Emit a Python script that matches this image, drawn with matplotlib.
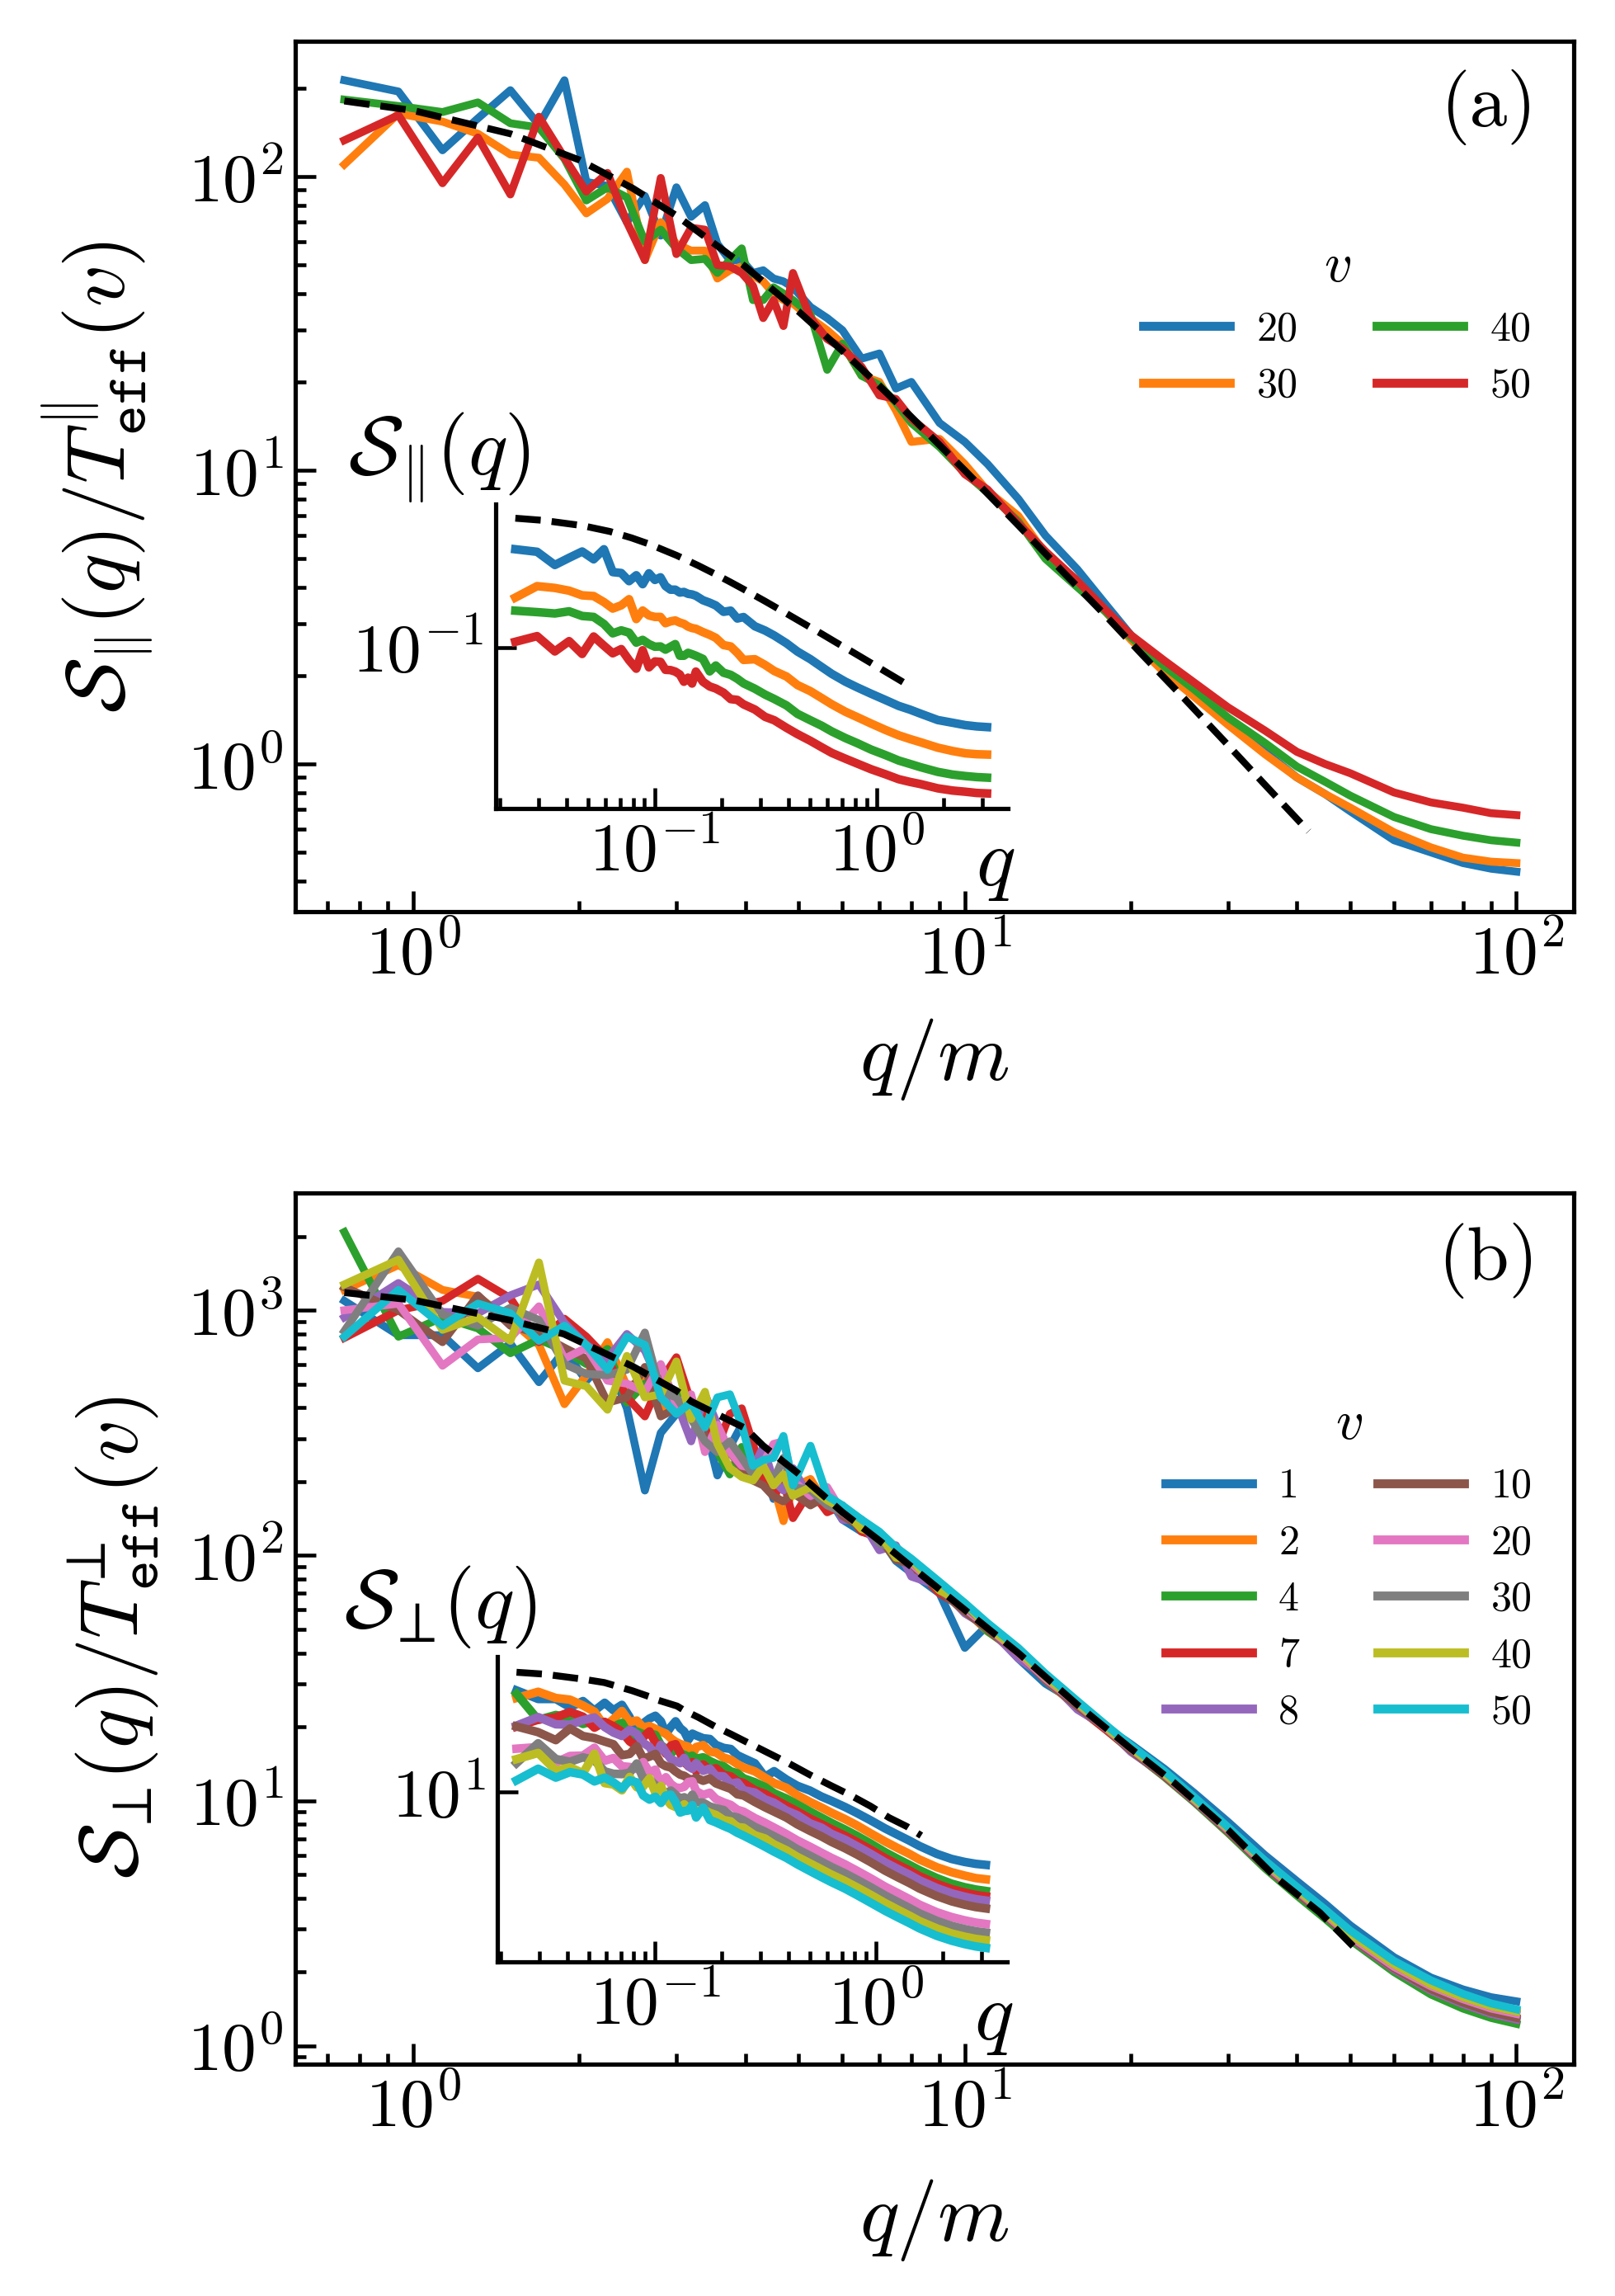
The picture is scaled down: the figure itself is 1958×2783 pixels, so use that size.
import numpy as np
import matplotlib
matplotlib.use("Agg")
import matplotlib.pyplot as plt
from matplotlib.ticker import LogLocator, NullLocator

plt.rcParams.update({
    "font.family": "cmr10",
    "mathtext.fontset": "cm",
    "axes.formatter.use_mathtext": True,
})

# q/m grid of the plotted points
qm = [0.75, 0.94, 1.13, 1.31, 1.5, 1.69, 1.88, 2.06, 2.25, 2.44,
      2.63, 2.81, 3.0, 3.19, 3.38, 3.56, 3.75, 3.94, 4.13, 4.31,
      4.5, 4.69, 4.88, 5.25, 5.63, 6.0, 6.5, 7.0, 7.5, 8.0,
      9.0, 10, 11, 12.5, 14, 16, 18, 20, 23, 26,
      30, 35, 40, 45, 50, 60, 70, 80, 90, 100]
m_mass = 0.0314

# ---- panel (a): S_par / T_eff  for v = 20, 30, 40, 50
v_par = [20, 30, 40, 50]
S_par_20 = [213, 195, 123, 158, 197, 150, 213, 96, 93, 70, 86, 63, 92, 73, 80, 59, 52, 52, 47, 48,
            45, 44, 42, 36, 33, 30, 24, 25, 19, 20, 14.5, 12.5, 10.5, 8.0, 6.0, 4.6, 3.5, 2.75, 2.1, 1.72,
            1.38, 1.1, 0.9, 0.79, 0.69, 0.55, 0.5, 0.46, 0.44, 0.43]
S_par_30 = [110, 164, 154, 140, 119, 116, 94, 75, 84, 104, 52, 70, 59, 56, 56, 45, 48, 49.5, 46, 44,
            40, 38, 37, 33, 30, 27, 21, 20, 16, 12.5, 12.8, 10.5, 8.5, 7.0, 5.2, 4.2, 3.3, 2.65, 2.05, 1.7,
            1.36, 1.08, 0.9, 0.79, 0.71, 0.585, 0.52, 0.48, 0.465, 0.46]
S_par_40 = [183, 174, 166, 179, 152, 147, 115, 83, 92, 85, 60, 66, 57, 52, 52.5, 47, 52, 57, 38, 38,
            42, 40, 38, 34, 22, 27, 21, 19.5, 17, 14.5, 12, 9.8, 8.4, 6.7, 5.0, 4.0, 3.3, 2.7, 2.15, 1.8,
            1.44, 1.18, 0.98, 0.87, 0.78, 0.66, 0.6, 0.57, 0.55, 0.54]
S_par_50 = [133, 162, 95, 136, 87, 160, 116, 89, 103, 70, 52, 99, 54.5, 67, 66, 50, 49.5, 47, 42.5, 33,
            38, 31, 47, 33, 28, 26, 22.5, 18, 17.5, 15, 12.5, 9.7, 8.6, 6.6, 5.3, 4.2, 3.35, 2.75, 2.25, 1.9,
            1.56, 1.3, 1.1, 1.0, 0.93, 0.8, 0.74, 0.71, 0.68, 0.67]
T_par = [0.0145, 0.0052, 0.00198, 0.00092]

th_q_par = [0.75, 1.0, 1.5, 2.0, 2.5, 3.0, 4.0, 5.0, 6.0, 7.0, 8.0, 10, 12.5, 15, 18, 21, 25, 30, 35, 42]
th_par = [181, 168, 140, 114, 91.3, 73.7, 49.4, 34.7, 25.5, 19.4, 15.2, 10.0, 6.5, 4.55, 3.2, 2.35,
          1.67, 1.16, 0.85, 0.59]
T_th_par = 0.0504

# ---- panel (b): S_perp / T_eff  for v = 1 ... 50
v_perp = [1, 2, 4, 7, 8, 10, 20, 30, 40, 50]
S_perp_1 = [1092, 791, 791, 580, 731, 509, 685, 516, 634, 398, 184, 316, 378, 420, 341, 212, 277, 341, 264, 232,
            170, 214, 200, 180, 175, 140, 125, 120, 95, 85, 70, 42, 52, 38, 30, 25, 20, 17, 13.5, 10.8,
            8.2, 6.0, 4.7, 3.8, 3.1, 2.3, 1.9, 1.7, 1.58, 1.52]
S_perp_2 = [1210, 1528, 1210, 1135, 912, 722, 414, 543, 741, 490, 516, 398, 420, 378, 341, 316, 264, 232, 214, 202,
            193, 138, 190, 205, 160, 155, 128, 118, 100, 88, 76, 60, 49, 41, 31, 24, 19.5, 16, 12.6, 10,
            7.4, 5.4, 4.2, 3.4, 2.75, 2.05, 1.7, 1.5, 1.36, 1.3]
S_perp_4 = [2083, 780, 935, 843, 668, 760, 685, 603, 695, 420, 502, 454, 465, 443, 300, 264, 214, 277, 227, 209,
            193, 202, 180, 190, 165, 148, 135, 112, 104, 86, 74, 62, 49, 40, 32, 24.5, 19.6, 16, 12.5, 9.9,
            7.4, 5.3, 4.1, 3.3, 2.7, 2.0, 1.62, 1.42, 1.3, 1.23]
S_perp_7 = [771, 1000, 1092, 1343, 1120, 741, 923, 780, 634, 441, 369, 516, 643, 420, 378, 277, 378, 398, 285, 202,
            174, 202, 142, 185, 150, 160, 125, 118, 98, 92, 70, 61, 50, 39, 31.5, 24, 19.5, 16.1, 12.6, 10,
            7.5, 5.4, 4.2, 3.4, 2.75, 2.05, 1.68, 1.48, 1.35, 1.28]
S_perp_8 = [935, 1291, 984, 972, 1150, 1274, 888, 722, 634, 800, 685, 490, 420, 292, 454, 341, 264, 245, 227, 277,
            202, 184, 227, 170, 185, 140, 138, 105, 110, 82, 75, 58, 51, 38, 32, 23.5, 20, 15.8, 12.7, 10,
            7.5, 5.4, 4.2, 3.4, 2.75, 2.05, 1.68, 1.48, 1.35, 1.28]
S_perp_10 = [1241, 1000, 741, 1150, 865, 800, 703, 634, 420, 441, 587, 369, 398, 441, 307, 277, 264, 227, 202, 193,
             174, 166, 180, 160, 175, 145, 130, 118, 96, 92, 72, 59, 50, 40, 31, 24.2, 19.7, 16, 12.6, 10,
             7.5, 5.4, 4.2, 3.4, 2.76, 2.07, 1.7, 1.5, 1.37, 1.3]
S_perp_20 = [1000, 1064, 594, 760, 771, 1037, 634, 703, 516, 502, 465, 603, 410, 454, 264, 341, 264, 232, 227, 238,
             285, 292, 202, 175, 190, 150, 132, 120, 100, 93, 73, 61, 51, 40, 31.5, 24.8, 19.8, 16.3, 12.8, 10.1,
             7.6, 5.5, 4.3, 3.45, 2.8, 2.1, 1.75, 1.55, 1.42, 1.35]
S_perp_30 = [822, 1738, 960, 865, 1023, 912, 603, 550, 543, 572, 811, 465, 441, 360, 292, 264, 292, 250, 214, 227,
             202, 250, 190, 185, 160, 150, 140, 112, 106, 95, 74, 62, 52, 41, 32, 25, 20, 16.4, 12.9, 10.2,
             7.7, 5.6, 4.35, 3.5, 2.85, 2.15, 1.78, 1.58, 1.45, 1.38]
S_perp_40 = [1274, 1607, 832, 935, 750, 1566, 516, 490, 393, 651, 441, 454, 618, 360, 465, 285, 227, 209, 202, 232,
             193, 214, 175, 190, 168, 155, 128, 122, 98, 96, 72, 64, 51, 41, 32, 25, 20, 16.4, 12.9, 10.2,
             7.7, 5.6, 4.35, 3.5, 2.85, 2.15, 1.78, 1.58, 1.45, 1.38]
S_perp_50 = [780, 1210, 865, 1064, 972, 750, 865, 722, 572, 780, 722, 441, 378, 420, 333, 441, 454, 341, 232, 245,
             250, 307, 193, 280, 175, 160, 140, 125, 108, 97, 78, 64, 53, 42, 33, 25.5, 20.4, 16.8, 13.2, 10.4,
             7.8, 5.7, 4.45, 3.6, 2.95, 2.22, 1.85, 1.63, 1.49, 1.41]
T_perp = [0.42, 0.285, 0.194, 0.152, 0.13, 0.095, 0.051, 0.036, 0.027, 0.0198]

th_q_perp = [0.75, 1.0, 1.5, 1.875, 2.5, 3.0, 3.19, 4.0, 4.31, 5.0, 6.0, 7.0, 8.0, 10, 12.5, 16, 20, 24, 30,
             36.5, 44, 51]
th_perp = [1180, 1100, 910, 800, 590, 470, 425, 330, 280, 215, 150, 115, 90, 60, 40, 24.6, 16.3, 11.8, 7.6,
           4.9, 3.5, 2.5]
T_th_perp = 0.771

colors = plt.rcParams["axes.prop_cycle"].by_key()["color"]

fig = plt.figure(figsize=(1958 / 300, 2783 / 300), dpi=300)


def style_main(ax):
    ax.set_xscale("log")
    ax.set_yscale("log")
    ax.xaxis.set_major_locator(LogLocator(base=10, numticks=20))
    ax.yaxis.set_major_locator(LogLocator(base=10, numticks=20))
    ax.xaxis.set_minor_locator(LogLocator(base=10, subs=np.arange(2, 10), numticks=20))
    ax.yaxis.set_minor_locator(LogLocator(base=10, subs=np.arange(2, 10), numticks=20))
    ax.tick_params(which="both", direction="in", top=False, right=False, width=1.1, labelsize=20)
    ax.tick_params(which="major", length=6)
    ax.tick_params(which="minor", length=3.2)
    for s in ax.spines.values():
        s.set_linewidth(1.25)


def style_inset(ax, ytick):
    ax.set_xscale("log")
    ax.set_yscale("log")
    ax.set_xticks([0.1, 1.0])
    ax.xaxis.set_minor_locator(LogLocator(base=10, subs=np.arange(2, 10), numticks=20))
    ax.set_yticks([ytick])
    ax.yaxis.set_minor_locator(NullLocator())
    ax.spines["top"].set_visible(False)
    ax.spines["right"].set_visible(False)
    for s in ("left", "bottom"):
        ax.spines[s].set_linewidth(1.25)
    ax.tick_params(which="both", direction="in", width=1.1, labelsize=20)
    ax.tick_params(which="major", length=6)
    ax.tick_params(which="minor", length=3.2)
    ax.patch.set_alpha(0)


# ================= panel (a)
ax_a = fig.add_axes([0.1828, 0.6029, 0.7916, 0.3791])
curves_par = [S_par_20, S_par_30, S_par_40, S_par_50]
for i, (v, s) in enumerate(zip(v_par, curves_par)):
    ax_a.plot(qm, s, color=colors[i], lw=2.3, label=str(v))
ax_a.plot(th_q_par, th_par, "k--", lw=2, zorder=5)
style_main(ax_a)
ax_a.set_xlim(0.611, 127)
ax_a.set_ylim(0.314, 289)
ax_a.set_ylabel(r"$\mathcal{S}_{\Vert}(q)/T^{\Vert}_{\mathtt{eff}}(v)$", fontsize=24)
ax_a.yaxis.set_label_coords(-0.110, 0.5)
ax_a.set_xlabel(r"$q/m$", fontsize=24)
ax_a.xaxis.set_label_coords(0.5, -0.12)
ax_a.text(0.933, 0.924, "(a)", transform=ax_a.transAxes, fontsize=22, ha="center", va="center")
leg = ax_a.legend(ncol=2, frameon=False, fontsize=12, title=r"$v$", title_fontsize=16,
                  loc="center", bbox_to_anchor=(0.815, 0.675), handlelength=2.1,
                  handletextpad=0.65, columnspacing=1.9, labelspacing=0.45)
for h in leg.get_lines():
    h.set_linewidth(2.6)

ins_a = fig.add_axes([0.3069, 0.6479, 0.3172, 0.1326])
q_in = [x * m_mass for x in qm]
for i, (s, t) in enumerate(zip(curves_par, T_par)):
    ins_a.plot(q_in, [y * t for y in s], color=colors[i], lw=2.5)
ins_a.plot([x * m_mass for x in th_q_par], [y * T_th_par for y in th_par], "k--", lw=2)
style_inset(ins_a, 1e-1)
ins_a.set_xlim(0.0192, 3.9)
ins_a.set_ylim(3.65e-4, 15.0)
ins_a.text(-0.11, 1.10, r"$\mathcal{S}_{\Vert}(q)$", transform=ins_a.transAxes, fontsize=24,
           ha="center", va="baseline")
ins_a.text(0.975, -0.19, r"$q$", transform=ins_a.transAxes, fontsize=24, ha="center", va="center")

# ================= panel (b)
ax_b = fig.add_axes([0.1828, 0.1010, 0.7916, 0.3794])
curves_perp = [S_perp_1, S_perp_2, S_perp_4, S_perp_7, S_perp_8, S_perp_10,
               S_perp_20, S_perp_30, S_perp_40, S_perp_50]
for i, (v, s) in enumerate(zip(v_perp, curves_perp)):
    ax_b.plot(qm, s, color=colors[i], lw=2.3, label=str(v))
ax_b.plot(th_q_perp, th_perp, "k--", lw=2, zorder=15)
style_main(ax_b)
ax_b.set_xlim(0.611, 127)
ax_b.set_ylim(0.843, 3006)
ax_b.set_ylabel("$\\mathcal{S}_{\u22a5}(q)/T^{\u22a5}_{\\mathtt{eff}}(v)$", fontsize=24)
ax_b.yaxis.set_label_coords(-0.106, 0.49)
ax_b.set_xlabel(r"$q/m$", fontsize=24)
ax_b.xaxis.set_label_coords(0.5, -0.13)
ax_b.text(0.933, 0.922, "(b)", transform=ax_b.transAxes, fontsize=22, ha="center", va="center")
leg = ax_b.legend(ncol=2, frameon=False, fontsize=12, title=r"$v$", title_fontsize=16,
                  loc="center", bbox_to_anchor=(0.824, 0.572), handlelength=2.1,
                  handletextpad=0.65, columnspacing=1.9, labelspacing=0.45)
for h in leg.get_lines():
    h.set_linewidth(2.6)

ins_b = fig.add_axes([0.3080, 0.1455, 0.3156, 0.1330])
for i, (s, t) in enumerate(zip(curves_perp, T_perp)):
    ins_b.plot(q_in, [y * t for y in s], color=colors[i], lw=2.5)
ins_b.plot([x * m_mass for x in th_q_perp], [y * T_th_perp for y in th_perp], "k--", lw=2)
style_inset(ins_b, 1e1)
ins_b.set_xlim(0.0193, 3.92)
ins_b.set_ylim(0.01644, 1644)
ins_b.text(-0.112, 1.095, "$\\mathcal{S}_{\u22a5}(q)$", transform=ins_b.transAxes, fontsize=24,
           ha="center", va="baseline")
ins_b.text(0.974, -0.19, r"$q$", transform=ins_b.transAxes, fontsize=24, ha="center", va="center")

fig.savefig("out.png", dpi=300)
